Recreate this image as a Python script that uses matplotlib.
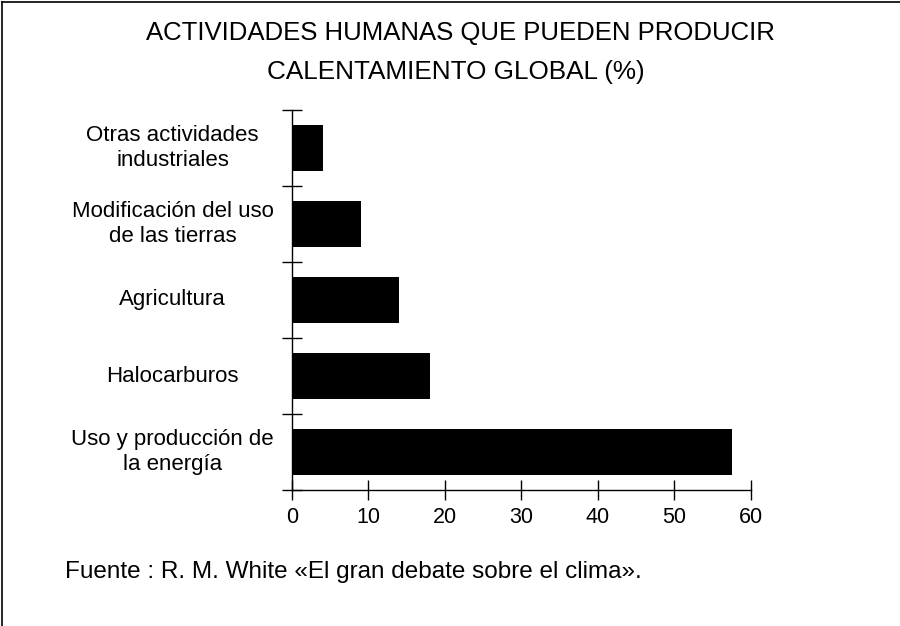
import matplotlib.pyplot as plt
from matplotlib.lines import Line2D
import numpy as np

plt.rcParams['font.family'] = ['Liberation Sans', 'DejaVu Sans']

# data, bottom to top
categorias = ['Uso y producción de\nla energía', 'Halocarburos', 'Agricultura',
              'Modificación del uso\nde las tierras', 'Otras actividades\nindustriales']
porcentajes = [57.5, 18, 14, 9, 4]
x_ticks = [0, 10, 20, 30, 40, 50, 60]

titulo_1 = 'ACTIVIDADES HUMANAS QUE PUEDEN PRODUCIR'
titulo_2 = 'CALENTAMIENTO GLOBAL (%)'
fuente = 'Fuente : R. M. White «El gran debate sobre el clima».'

W, H = 900, 626
fig = plt.figure(figsize=(W / 100, H / 100), dpi=100)
ax = fig.add_axes([292 / W, 1 - 490 / H, (750.7 - 292) / W, 380 / H])

pos = np.arange(len(categorias))
ax.barh(pos, porcentajes, height=0.6, color='black')

ax.set_xlim(0, 60)
ax.set_ylim(-0.5, len(categorias) - 0.5)

# spines: only left and bottom
for s in ['top', 'right']:
    ax.spines[s].set_visible(False)
for s in ['left', 'bottom']:
    ax.spines[s].set_linewidth(1.0)

ax.set_xticks(x_ticks)
ax.set_xticklabels([str(t) for t in x_ticks], fontsize=15.5)
ax.tick_params(axis='x', direction='inout', length=15, width=1.0, pad=5)

# boundary tick marks on y axis, labels at centers
ax.set_yticks(pos)
ax.set_yticklabels([])
ax.set_yticks(np.arange(len(categorias) + 1) - 0.5, minor=True)
ax.tick_params(axis='y', which='major', length=0)
ax.tick_params(axis='y', which='minor', direction='inout', length=15, width=1.0)

for p, lab in zip(pos, categorias):
    ax.text(-15.6, p, lab, ha='center', va='center', multialignment='center',
            fontsize=16, linespacing=1.25, clip_on=False)

fig.text(460 / W, 1 - 33 / H, titulo_1, ha='center', va='center', fontsize=18.5)
fig.text(456 / W, 1 - 72 / H, titulo_2, ha='center', va='center', fontsize=18.8)
fig.text(65 / W, 1 - 572 / H, fuente, ha='left', va='center', fontsize=17.5)

# frame: left and top edges
fig.add_artist(Line2D([1.5 / W, 1.5 / W], [0, 1 - 2 / H], color='black', lw=1.2))
fig.add_artist(Line2D([1.5 / W, 1], [1 - 2 / H, 1 - 2 / H], color='black', lw=1.2))

fig.savefig('out.png', dpi=100)
